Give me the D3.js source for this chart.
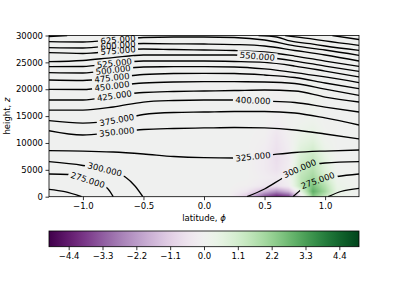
<!DOCTYPE html>
<html lang="en">
<head>
<meta charset="utf-8">
<title>Potential temperature contours</title>
<script src="https://cdn.jsdelivr.net/npm/d3@7"></script>
<style>
body { margin: 0; background: #fff; }
text { font-family: "DejaVu Sans", sans-serif; font-size: 8.5px; fill: #000; }
</style>
</head>
<body>
<script>

// latitudes (rad) where the full-width contours were read
var lats = [-1.28, -1.0, -0.75, -0.5, -0.25, 0, 0.25, 0.5, 0.75, 1.0, 1.28];

// contours that run across the whole plot: level and height (m) at each lat
var fullLevels = [325, 350, 375, 400, 425, 450, 475, 500, 525, 550, 575, 600, 625];
var fullHeights = [
	[8560, 8500, 8320, 7950, 7480, 7260, 7200, 7670, 8230, 8500, 8690],
	[12280, 11480, 11985, 12505, 12690, 12790, 12880, 12790, 12410, 11670, 10740],
	[14140, 13680, 14140, 15300, 15670, 15760, 15860, 15860, 15580, 14650, 13340],
	[16130, 16130, 16690, 17620, 17900, 18000, 18000, 17810, 17530, 16690, 15760],
	[18000, 18000, 18740, 19390, 19580, 19670, 19760, 19860, 19670, 18550, 17620],
	[19990, 19950, 20600, 21160, 21350, 21400, 21400, 21350, 21070, 20040, 18870],
	[21720, 21630, 22150, 22740, 22930, 22970, 22930, 22650, 22180, 21160, 20100],
	[23080, 23020, 23580, 24140, 24190, 24190, 24140, 23770, 23110, 22280, 21220],
	[24190, 24230, 24830, 25250, 25250, 25250, 25160, 24980, 24320, 23390, 22280],
	[25120, 25350, 25900, 26370, 26370, 26370, 26370, 26000, 25250, 24320, 23340],
	[26800, 26650, 27120, 27490, 27390, 27300, 27210, 26930, 26180, 25250, 24270],
	[27730, 27670, 28100, 28510, 28460, 28420, 28320, 28050, 27210, 26370, 25250],
	[28850, 28790, 29160, 29630, 29720, 29720, 29630, 29160, 28050, 27300, 26310]
];

// contours that meet the ground or the top: [lat, height]
var partialLevels = [250, 250, 275, 275, 300, 300, 650, 650, 675, 700];
var partialPoints = [
	[[-1.28, 1377], [-1.15, 930], [-1.01, 0]],
	[[1.025, 0], [1.13, 968], [1.28, 1563]],
	[[-1.28, 4224], [-1.12, 4131], [-0.96, 3108], [-0.80, 1619], [-0.75, 0]],
	[[0.735, 0], [0.82, 1619], [0.95, 3108], [1.1, 3759], [1.28, 4224]],
	[[-1.28, 6514], [-1.0, 5806], [-0.75, 4597], [-0.65, 3666], [-0.57, 1991], [-0.505, 0]],
	[[0.355, 0], [0.5, 1433], [0.65, 3480], [0.8, 5341], [1.0, 6272], [1.28, 6514]],
	[[-1.28, 29810], [-1.13, 30000]],
	[[0.45, 30000], [0.6, 29720], [0.71, 28980], [0.876, 28470], [1.0, 28045], [1.28, 27245]],
	[[0.67, 30000], [0.876, 29400], [1.0, 28980], [1.28, 28175]],
	[[1.06, 30000], [1.28, 29255]]
];

// inline contour labels: level and latitude of the label
var labelLevels = [625, 600, 575, 525, 500, 475, 450, 425, 375, 350, 550, 400, 325, 300, 300, 275, 275];
var labelLats = [-0.71, -0.71, -0.71, -0.74, -0.75, -0.76, -0.76, -0.74, -0.72, -0.72, 0.44, 0.405, 0.405, -0.82, 0.79, -0.96, 0.94];

// shaded field under the contours
var fieldLats = [-1.28, 0.2, 0.35, 0.5, 0.6, 0.7, 0.8, 0.9, 1.0, 1.1, 1.28];
var fieldZ = [0, 1000, 2000, 3500, 5000, 7000, 9000, 11000, 14000, 30000];
var fieldValues = [
	[0, 0, -1.2, -3.5, -4.3, -3.9, -0.5, 2.4, 1.4, 0.3, 0],
	[0, 0, -0.4, -1.7, -2.4, -1.6, 0.6, 3.0, 2.0, 0.5, 0],
	[0, 0, -0.1, -0.4, -0.6, -0.2, 1.5, 2.6, 1.7, 0.4, 0],
	[0, 0, 0, -0.2, -0.3, 0, 1.5, 2.0, 1.1, 0.2, 0],
	[0, 0, 0, -0.3, -0.6, -0.2, 1.3, 1.7, 0.8, 0.1, 0],
	[0, 0, 0, -0.3, -0.7, -0.3, 1.0, 1.4, 0.6, 0, 0],
	[0, 0, 0, -0.2, -0.6, -0.2, 0.7, 1.0, 0.3, 0, 0],
	[0, 0, 0, -0.1, -0.5, -0.1, 0.4, 0.6, 0.1, 0, 0],
	[0, 0, 0, 0, -0.2, 0, 0.1, 0.2, 0, 0, 0],
	[0, 0, 0, 0, 0, 0, 0, 0, 0, 0, 0]
];

var xTicks = [-1.0, -0.5, 0.0, 0.5, 1.0];
var yTicks = [0, 5000, 10000, 15000, 20000, 25000, 30000];
var cbTicks = [-4.4, -3.3, -2.2, -1.1, 0.0, 1.1, 2.2, 3.3, 4.4];
var cbRange = [-5.04, 5.04];

//Sizes
var W = 399, H = 299;
var pLeft = 49, pRight = 359, pTop = 35.5, pBottom = 196.7;
var cbTop = 231, cbBottom = 246.7;

var x = d3.scaleLinear().domain([-1.28, 1.28]).range([pLeft, pRight]);
var y = d3.scaleLinear().domain([0, 30000]).range([pBottom, pTop]);
var color = d3.scaleSequential(d3.interpolatePRGn).domain(cbRange);

var svg = d3.select("body").append("svg")
	.attr("width", W)
	.attr("height", H);
var defs = svg.append("defs");

defs.append("clipPath").attr("id", "plotClip")
	.append("rect")
	.attr("x", pLeft).attr("y", pTop)
	.attr("width", pRight - pLeft).attr("height", pBottom - pTop);

var mask = defs.append("mask").attr("id", "gaps")
	.attr("maskUnits", "userSpaceOnUse")
	.attr("x", 0).attr("y", 0).attr("width", W).attr("height", H);
mask.append("rect").attr("width", W).attr("height", H).attr("fill", "#fff");

//Shaded field, painted on a canvas and put in as an image
function locate(arr, v) {
	var i = Math.max(0, Math.min(arr.length - 2, d3.bisectRight(arr, v) - 1));
	var t = (v - arr[i]) / (arr[i + 1] - arr[i]);
	return [i, Math.max(0, Math.min(1, t))];
}
var cw = Math.round(pRight - pLeft), ch = Math.round(pBottom - pTop);
var canvas = document.createElement("canvas");
canvas.width = cw;
canvas.height = ch;
var ctx = canvas.getContext("2d");
var img = ctx.createImageData(cw, ch);
for (var py = 0; py < ch; py++) {
	var zz = y.invert(pTop + (py + 0.5) * (pBottom - pTop) / ch);
	var zi = locate(fieldZ, zz);
	for (var px = 0; px < cw; px++) {
		var la = x.invert(pLeft + (px + 0.5) * (pRight - pLeft) / cw);
		var li = locate(fieldLats, la);
		var r0 = fieldValues[zi[0]], r1 = fieldValues[zi[0] + 1];
		var a = r0[li[0]] * (1 - li[1]) + r0[li[0] + 1] * li[1];
		var b = r1[li[0]] * (1 - li[1]) + r1[li[0] + 1] * li[1];
		var c = d3.rgb(color(a * (1 - zi[1]) + b * zi[1]));
		var k = (py * cw + px) * 4;
		img.data[k] = c.r; img.data[k + 1] = c.g; img.data[k + 2] = c.b; img.data[k + 3] = 255;
	}
}
ctx.putImageData(img, 0, 0);
svg.append("image")
	.attr("href", canvas.toDataURL())
	.attr("x", pLeft).attr("y", pTop)
	.attr("width", pRight - pLeft).attr("height", pBottom - pTop)
	.attr("preserveAspectRatio", "none");

//Contour lines
var segments = fullLevels.map(function(lv, i) {
	return { level: lv, pts: lats.map(function(la, j) { return [la, fullHeights[i][j]]; }) };
}).concat(partialLevels.map(function(lv, i) {
	return { level: lv, pts: partialPoints[i] };
}));

var line = d3.line()
	.x(function(d) { return x(d[0]); })
	.y(function(d) { return y(d[1]); })
	.curve(d3.curveMonotoneX);

var lineG = svg.append("g").attr("clip-path", "url(#plotClip)")
	.append("g").attr("mask", "url(#gaps)");
lineG.selectAll("path")
	.data(segments)
	.enter()
	.append("path")
	.attr("d", function(d) { return line(d.pts); })
	.attr("fill", "none")
	.attr("stroke", "#000")
	.attr("stroke-width", 1.3)
	.attr("stroke-linejoin", "round");

//Inline labels
var fmt = d3.format(".3f");
function lengthAtX(node, tx) {
	var lo = 0, hi = node.getTotalLength();
	for (var k = 0; k < 30; k++) {
		var mid = (lo + hi) / 2;
		if (node.getPointAtLength(mid).x < tx) lo = mid; else hi = mid;
	}
	return lo;
}
var paths = lineG.selectAll("path").nodes();
labelLevels.forEach(function(lv, i) {
	var la = labelLats[i];
	var si = segments.findIndex(function(s) {
		return s.level === lv && la >= s.pts[0][0] && la <= s.pts[s.pts.length - 1][0];
	});
	if (si < 0) return;
	var node = paths[si];
	var L = lengthAtX(node, x(la));
	var p = node.getPointAtLength(L);
	var p1 = node.getPointAtLength(Math.max(0, L - 10));
	var p2 = node.getPointAtLength(L + 10);
	var ang = Math.atan2(p2.y - p1.y, p2.x - p1.x) * 180 / Math.PI;
	var tr = "translate(" + p.x + "," + p.y + ") rotate(" + ang + ")";
	var t = svg.append("text")
		.attr("transform", tr)
		.attr("text-anchor", "middle")
		.attr("dy", "0.35em")
		.text(fmt(lv));
	var w = t.node().getComputedTextLength() + 5;
	mask.append("rect")
		.attr("transform", tr)
		.attr("x", -w / 2).attr("y", -4.5)
		.attr("width", w).attr("height", 9)
		.attr("fill", "#000");
});

//Frame
svg.append("rect")
	.attr("x", pLeft).attr("y", pTop)
	.attr("width", pRight - pLeft).attr("height", pBottom - pTop)
	.attr("fill", "none")
	.attr("stroke", "#000")
	.attr("stroke-width", 0.8);

//Axes
var xAxis = d3.axisBottom(x).tickValues(xTicks).tickFormat(d3.format(".1f")).tickSize(3.5).tickPadding(2.5);
var yAxis = d3.axisLeft(y).tickValues(yTicks).tickFormat(d3.format("d")).tickSize(3.5).tickPadding(2.5);

svg.append("g")
	.attr("transform", "translate(0," + pBottom + ")")
	.call(xAxis)
	.call(function(g) { g.select(".domain").remove(); g.selectAll("line").attr("stroke-width", 0.8); });

svg.append("g")
	.attr("transform", "translate(" + pLeft + ",0)")
	.call(yAxis)
	.call(function(g) { g.select(".domain").remove(); g.selectAll("line").attr("stroke-width", 0.8); });

var xl = svg.append("text")
	.attr("x", (pLeft + pRight) / 2)
	.attr("y", 221)
	.attr("text-anchor", "middle");
xl.append("tspan").text("latitude, ");
xl.append("tspan").attr("font-style", "italic").text("ϕ");

var yl = svg.append("text")
	.attr("transform", "translate(10," + (pTop + pBottom) / 2 + ") rotate(-90)")
	.attr("text-anchor", "middle");
yl.append("tspan").text("height, ");
yl.append("tspan").attr("font-style", "italic").text("z");

//Colour bar
var cx = d3.scaleLinear().domain(cbRange).range([pLeft, pRight]);
var grad = defs.append("linearGradient").attr("id", "cbGrad");
d3.range(0, 1.0001, 0.02).forEach(function(f) {
	grad.append("stop")
		.attr("offset", f)
		.attr("stop-color", color(cbRange[0] + f * (cbRange[1] - cbRange[0])));
});
svg.append("rect")
	.attr("x", pLeft).attr("y", cbTop)
	.attr("width", pRight - pLeft).attr("height", cbBottom - cbTop)
	.attr("fill", "url(#cbGrad)")
	.attr("stroke", "#000")
	.attr("stroke-width", 0.8);

svg.append("g")
	.attr("transform", "translate(0," + cbBottom + ")")
	.call(d3.axisBottom(cx).tickValues(cbTicks).tickFormat(d3.format(".1f")).tickSize(3.5).tickPadding(2.5))
	.call(function(g) { g.select(".domain").remove(); g.selectAll("line").attr("stroke-width", 0.8); });

</script>
</body>
</html>
